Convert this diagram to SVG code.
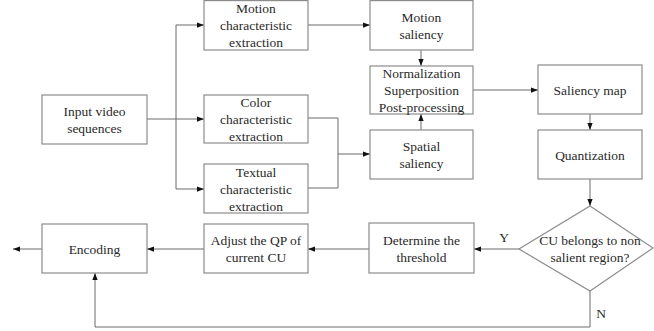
<svg xmlns="http://www.w3.org/2000/svg" width="654" height="331" viewBox="0 0 654 331">
<style>
.box{fill:#fff;stroke:#8c8c8c;stroke-width:1.2}
.ln{fill:none;stroke:#6a6a6a;stroke-width:1}
text{font-family:'Liberation Serif','Times New Roman','DejaVu Serif',serif;font-size:13.5px;fill:#2a2a2a;text-anchor:middle}
</style>
<defs>
<marker id="ah" viewBox="0 0 8 6" refX="8" refY="3" markerWidth="7" markerHeight="5.5" orient="auto" markerUnits="userSpaceOnUse">
<path d="M0,0 L8,3 L0,6 z" fill="#111"/>
</marker>
</defs>
<rect width="654" height="331" fill="#fff"/>
<g id="connectors">
<path class="ln" d="M147,119 H204" marker-end="url(#ah)"/>
<path class="ln" d="M176,119 V25 H204" marker-end="url(#ah)"/>
<path class="ln" d="M176,119 V189 H204" marker-end="url(#ah)"/>
<path class="ln" d="M308,25 H370" marker-end="url(#ah)"/>
<path class="ln" d="M308,118 H338 V188 H308"/>
<path class="ln" d="M338,154 H370" marker-end="url(#ah)"/>
<path class="ln" d="M421,50 V66" marker-end="url(#ah)"/>
<path class="ln" d="M421,130 V114" marker-end="url(#ah)"/>
<path class="ln" d="M473,90 H538" marker-end="url(#ah)"/>
<path class="ln" d="M590,114 V130" marker-end="url(#ah)"/>
<path class="ln" d="M590,179 V206" marker-end="url(#ah)"/>
<path class="ln" d="M519,249 H474" marker-end="url(#ah)"/>
<path class="ln" d="M369,249 H308" marker-end="url(#ah)"/>
<path class="ln" d="M204,249 H147" marker-end="url(#ah)"/>
<path class="ln" d="M42,249 H13" marker-end="url(#ah)"/>
<path class="ln" d="M590,291 V327 H95 V273" marker-end="url(#ah)"/>
<text x="504" y="242">Y</text>
<text x="601" y="318">N</text>
</g>
<g id="input">
<rect class="box" x="42" y="95" width="105" height="49"/>
<text x="94.5" y="115.5">Input video</text>
<text x="94.5" y="132.5">sequences</text>
</g>
<g id="motion-char">
<rect class="box" x="204" y="0.6" width="104" height="49.4"/>
<text x="256" y="12.5">Motion</text>
<text x="256" y="29.5">characteristic</text>
<text x="256" y="46.5">extraction</text>
</g>
<g id="color-char">
<rect class="box" x="204" y="95" width="104" height="48"/>
<text x="256" y="106.5">Color</text>
<text x="256" y="123.5">characteristic</text>
<text x="256" y="140.5">extraction</text>
</g>
<g id="textual-char">
<rect class="box" x="204" y="164" width="104" height="49"/>
<text x="256" y="176.5">Textual</text>
<text x="256" y="193.5">characteristic</text>
<text x="256" y="210.5">extraction</text>
</g>
<g id="motion-saliency">
<rect class="box" x="370" y="0.6" width="103" height="49.4"/>
<text x="421.5" y="21.5">Motion</text>
<text x="421.5" y="38.5">saliency</text>
</g>
<g id="normalization">
<rect class="box" x="370" y="66" width="103" height="48"/>
<text x="421.5" y="77.5">Normalization</text>
<text x="421.5" y="94.5">Superposition</text>
<text x="421.5" y="111.5">Post-processing</text>
</g>
<g id="spatial-saliency">
<rect class="box" x="370" y="130" width="103" height="49"/>
<text x="421.5" y="150.5">Spatial</text>
<text x="421.5" y="167.5">saliency</text>
</g>
<g id="saliency-map">
<rect class="box" x="538" y="65" width="104" height="49"/>
<text x="590" y="94.5">Saliency map</text>
</g>
<g id="quantization">
<rect class="box" x="538" y="130" width="104" height="49"/>
<text x="590" y="159.5">Quantization</text>
</g>
<g id="decision">
<polygon class="box" points="590,206 653,248 590,291 519,249"/>
<text x="590" y="244.5">CU belongs to non</text>
<text x="590" y="261.5">salient region?</text>
</g>
<g id="threshold">
<rect class="box" x="369" y="223" width="105" height="50"/>
<text x="421.5" y="244.5">Determine the</text>
<text x="421.5" y="261.5">threshold</text>
</g>
<g id="adjust-qp">
<rect class="box" x="204" y="224" width="104" height="49"/>
<text x="256" y="244.5">Adjust the QP of</text>
<text x="256" y="261.5">current CU</text>
</g>
<g id="encoding">
<rect class="box" x="42" y="224" width="105" height="49"/>
<text x="94.5" y="253.5">Encoding</text>
</g>
</svg>
